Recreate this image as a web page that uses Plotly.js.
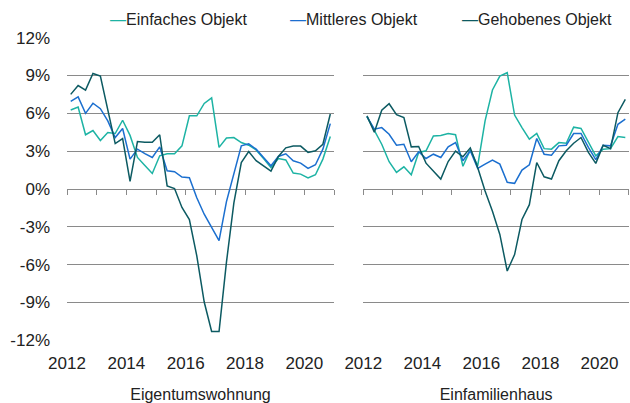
<!DOCTYPE html>
<html>
<head>
<meta charset="utf-8">
<script src="https://cdn.plot.ly/plotly-3.0.1.min.js"></script>
<style>html,body{margin:0;padding:0;background:#fff}#chart{width:630px;height:403px}</style>
</head>
<body>
<div id="chart"></div>
<script>
// Quarterly observations 2012 Q1 .. 2020 Q4 (plotted at mid-quarter)
const quarterPos = [
  2012.125, 2012.375, 2012.625, 2012.875,
  2013.125, 2013.375, 2013.625, 2013.875,
  2014.125, 2014.375, 2014.625, 2014.875,
  2015.125, 2015.375, 2015.625, 2015.875,
  2016.125, 2016.375, 2016.625, 2016.875,
  2017.125, 2017.375, 2017.625, 2017.875,
  2018.125, 2018.375, 2018.625, 2018.875,
  2019.125, 2019.375, 2019.625, 2019.875,
  2020.125, 2020.375, 2020.625, 2020.875
];

const seriesNames = ['Einfaches Objekt', 'Mittleres Objekt', 'Gehobenes Objekt'];
const seriesColors = ['#1db3a4', '#1b6fcf', '#0c5a62'];
const panelTitles = ['Eigentumswohnung', 'Einfamilienhaus'];

// Eigentumswohnung (%)
const einfachesETW = [6.26, 6.5, 4.3, 4.63, 3.84, 4.47, 4.4, 5.45, 4.25, 2.5, 1.87, 1.23,
  2.63, 2.8, 2.8, 3.42, 5.8, 5.8, 6.78, 7.22, 3.3, 4.04, 4.08, 3.68,
  3.47, 3.1, 2.42, 1.7, 2.42, 2.3, 1.26, 1.18, 0.87, 1.13, 2.37, 4.16];
const mittleresETW = [6.95, 7.3, 6.0, 6.8, 6.37, 5.4, 4.08, 4.8, 2.37, 3.16, 2.8, 2.5,
  3.34, 1.45, 1.37, 0.95, 0.9, -0.7, -2.0, -3.04, -4.1, -1.0, 1.3, 3.42,
  3.58, 3.16, 2.5, 1.84, 2.58, 2.79, 2.24, 2.05, 1.63, 1.92, 3.16, 5.18];
const gehobenesETW = [7.5, 8.2, 7.84, 9.16, 8.95, 6.3, 3.6, 4.0, 0.6, 3.76, 3.7, 3.7,
  4.3, 0.25, 0.04, -1.46, -2.43, -5.3, -8.96, -11.3, -11.3, -5.8, -1.1, 2.1,
  2.97, 2.24, 1.84, 1.42, 2.58, 3.26, 3.4, 3.4, 2.9, 3.03, 3.55, 5.95];

// Einfamilienhaus (%)
const einfachesEFH = [5.74, 4.6, 3.55, 2.16, 1.32, 1.76, 1.13, 2.9, 3.03, 4.2, 4.24, 4.4,
  4.3, 1.8, 3.1, 1.84, 5.4, 7.85, 8.95, 9.22, 5.86, 4.87, 3.95, 4.4,
  3.2, 3.16, 3.68, 3.63, 4.9, 4.8, 3.68, 2.63, 3.16, 3.2, 4.16, 4.08];
const mittleresEFH = [5.74, 4.74, 4.87, 4.34, 3.47, 3.55, 2.16, 2.95, 2.42, 2.76, 2.5, 3.34,
  3.68, 2.24, 3.03, 1.63, 1.97, 2.29, 1.97, 0.53, 0.45, 1.5, 1.92, 4.0,
  2.76, 2.68, 3.42, 3.47, 4.4, 4.4, 3.3, 2.32, 3.47, 3.42, 5.13, 5.53];
const gehobenesEFH = [5.8, 4.5, 6.24, 6.76, 5.9, 5.66, 3.34, 3.37, 2.05, 1.45, 0.79, 2.18,
  3.0, 2.55, 3.26, 1.71, -0.15, -1.76, -3.6, -6.5, -5.2, -2.42, -1.24, 2.1,
  0.97, 0.79, 2.24, 3.03, 3.63, 4.08, 2.9, 2.03, 3.47, 3.2, 6.05, 7.1];

const yTickVals = [-12, -9, -6, -3, 0, 3, 6, 9, 12];
const yTickText = ['-12%', '-9%', '-6%', '-3%', '0%', '3%', '6%', '9%', '12%'];
const xTickVals = [2012, 2014, 2016, 2018, 2020];
const xTickText = ['2012', '2014', '2016', '2018', '2020'];

const panels = [
  {x: 'x', y: 'y', data: [einfachesETW, mittleresETW, gehobenesETW]},
  {x: 'x2', y: 'y2', data: [einfachesEFH, mittleresEFH, gehobenesEFH]}
];

const traces = [];
panels.forEach(p => {
  p.data.forEach((vals, k) => {
    traces.push({
      type: 'scatter', mode: 'lines',
      x: quarterPos, y: vals,
      xaxis: p.x, yaxis: p.y,
      name: seriesNames[k], showlegend: false,
      line: {color: seriesColors[k], width: 1.5},
      hoverinfo: 'skip'
    });
  });
});
// empty traces to bind the zero-line tick axes
traces.push({type: 'scatter', x: [], y: [], xaxis: 'x3', yaxis: 'y', showlegend: false, hoverinfo: 'skip'});
traces.push({type: 'scatter', x: [], y: [], xaxis: 'x4', yaxis: 'y2', showlegend: false, hoverinfo: 'skip'});

const FONT = 'Liberation Sans, Arial, sans-serif';
const TXT = '#222222';
const GRID = '#8a8a8a';
const dom1 = [0, 0.4751];
const dom2 = [0.5272, 1];
const xr = [2012, 2021];
const yr = [-12.05, 12.05];

function bottomAxis(domain, title, anchor) {
  return {
    domain: domain, range: xr, anchor: anchor,
    tickvals: xTickVals, ticktext: xTickText,
    ticks: '', showgrid: false, zeroline: false, showline: false,
    tickfont: {family: FONT, size: 17, color: TXT},
    ticklabelstandoff: 10,
    title: {text: title, font: {family: FONT, size: 16, color: TXT}, standoff: 18}
  };
}
function zeroAxis(over) {
  return {
    overlaying: over, anchor: 'free', position: 0.5,
    range: xr, tick0: 2012, dtick: 1,
    ticks: 'outside', ticklen: 5, tickwidth: 1, tickcolor: GRID,
    showticklabels: false, showgrid: false, zeroline: false, showline: false
  };
}

const annotations = seriesNames.map((nm, k) => ({
  xref: 'paper', yref: 'paper',
  x: [0.073, 0.393, 0.699][k], y: 1.057,
  xanchor: 'left', yanchor: 'middle', showarrow: false,
  text: '<span style="color:' + seriesColors[k] + '">\u2014</span>' + nm,
  font: {family: FONT, size: 16, color: TXT}
}));

const layout = {
  width: 630, height: 403,
  margin: {l: 67, r: 1, t: 37, b: 62},
  paper_bgcolor: '#ffffff', plot_bgcolor: '#ffffff',
  showlegend: false,
  xaxis: bottomAxis(dom1, panelTitles[0], 'y'),
  xaxis2: bottomAxis(dom2, panelTitles[1], 'y2'),
  xaxis3: zeroAxis('x'),
  xaxis4: zeroAxis('x2'),
  yaxis: {
    domain: [0, 1], range: yr, anchor: 'x',
    tickvals: yTickVals, ticktext: yTickText,
    showgrid: true, gridcolor: GRID, gridwidth: 1,
    zeroline: false, showline: false, ticks: '',
    ticklabelstandoff: 16,
    tickfont: {family: FONT, size: 17, color: TXT}
  },
  yaxis2: {
    domain: [0, 1], range: yr, anchor: 'x2', matches: 'y',
    tickvals: yTickVals, showticklabels: false,
    showgrid: true, gridcolor: GRID, gridwidth: 1,
    zeroline: false, showline: false, ticks: ''
  },
  annotations: annotations
};

Plotly.newPlot('chart', traces, layout, {staticPlot: true, displayModeBar: false});
</script>
</body>
</html>
